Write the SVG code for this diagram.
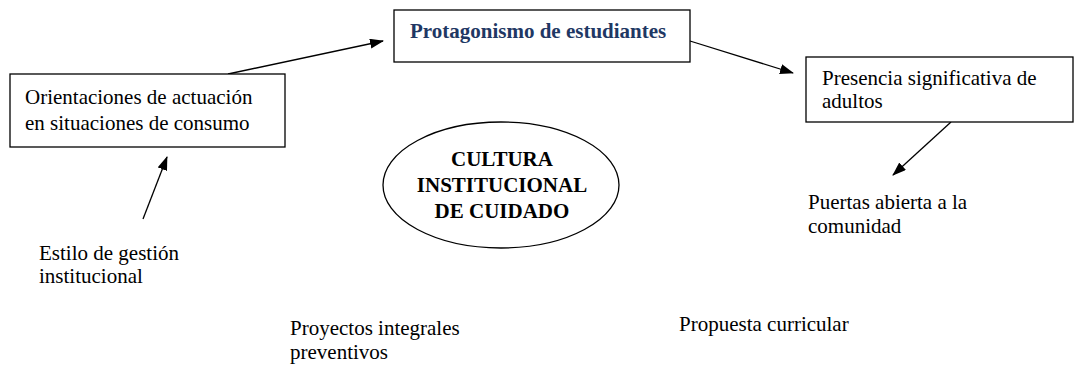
<svg xmlns="http://www.w3.org/2000/svg" width="1076" height="368" viewBox="0 0 1076 368">
<style>
  text { font-family: 'Liberation Serif', 'Times New Roman', 'DejaVu Serif', serif; font-size: 21px; fill: #000; }
  .bold { font-weight: bold; }
  .blue { fill: #1F3864; }
  .box { fill: #fff; stroke: #000; stroke-width: 1.3; }
  .conn { stroke: #000; stroke-width: 1.3; fill: none; marker-end: url(#arrow); }
</style>
<defs>
  <marker id="arrow" markerUnits="userSpaceOnUse" markerWidth="14" markerHeight="10" refX="13" refY="5" orient="auto">
    <path d="M0,0 L14,5 L0,10 Z" fill="#000"/>
  </marker>
</defs>
<rect width="1076" height="368" fill="#fff"/>
<g id="connectors">
  <line class="conn" x1="228" y1="74" x2="383" y2="41"/>
  <line class="conn" x1="690" y1="41" x2="793" y2="73"/>
  <line class="conn" x1="951" y1="122" x2="893" y2="175"/>
  <line class="conn" x1="143" y1="219" x2="167" y2="157"/>
</g>
<g font-family="Liberation Serif, Times New Roman, serif">
<g id="protagonismo">
  <rect class="box" x="394" y="10" width="296" height="52"/>
  <text class="bold blue" x="410" y="38">Protagonismo de estudiantes</text>
</g>
<g id="orientaciones">
  <rect class="box" x="10" y="74" width="275" height="73"/>
  <text x="25" y="104">Orientaciones de actuación</text>
  <text x="25" y="130">en situaciones de consumo</text>
</g>
<g id="presencia">
  <rect class="box" x="806" y="57" width="267" height="65"/>
  <text x="822" y="85">Presencia significativa de</text>
  <text x="822" y="108">adultos</text>
</g>
<g id="cultura">
  <ellipse class="box" cx="501" cy="185" rx="118" ry="63"/>
  <text class="bold" x="502" y="166" text-anchor="middle">CULTURA</text>
  <text class="bold" x="502" y="192" text-anchor="middle">INSTITUCIONAL</text>
  <text class="bold" x="502" y="218" text-anchor="middle">DE CUIDADO</text>
</g>
<g id="puertas">
  <text x="808" y="209">Puertas abierta a la</text>
  <text x="808" y="233">comunidad</text>
</g>
<g id="estilo">
  <text x="39" y="260">Estilo de gestión</text>
  <text x="39" y="283">institucional</text>
</g>
<g id="proyectos">
  <text x="290" y="335">Proyectos integrales</text>
  <text x="290" y="359">preventivos</text>
</g>
<g id="propuesta">
  <text x="679" y="331">Propuesta curricular</text>
</g>
</g>
</svg>
